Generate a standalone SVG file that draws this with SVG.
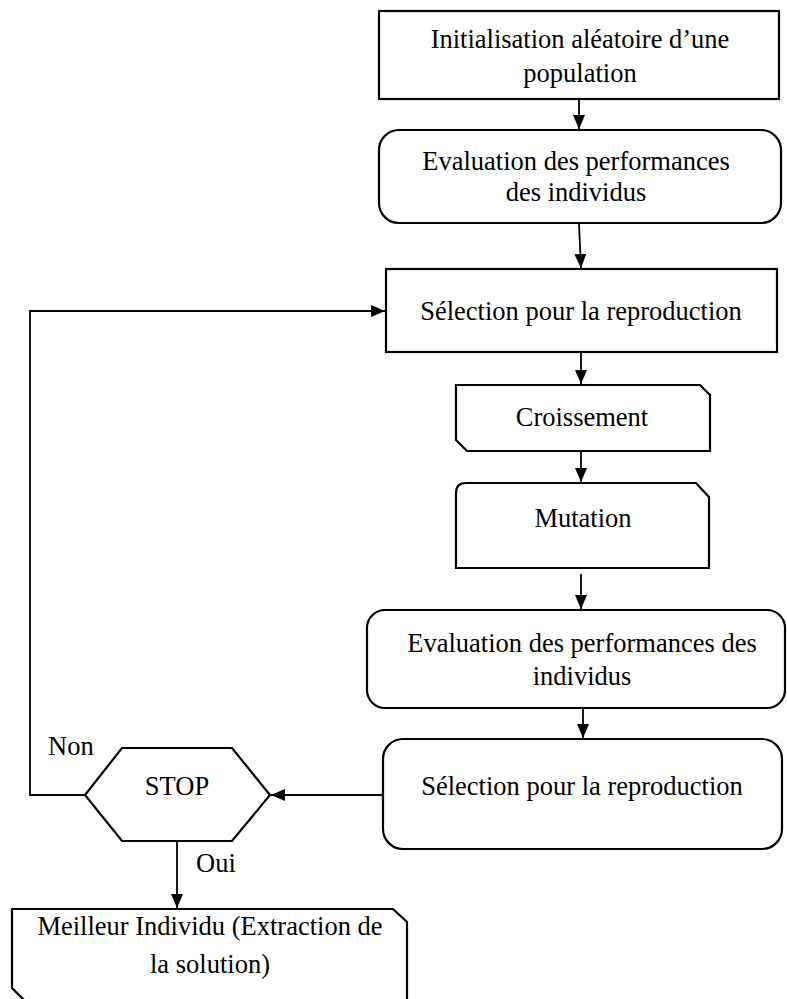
<svg xmlns="http://www.w3.org/2000/svg" width="787" height="999" viewBox="0 0 787 999">
<style>
.s{fill:#fff;stroke:#000;stroke-width:2.2}
.c{fill:none;stroke:#000;stroke-width:1.8}
text{font-family:"Liberation Serif","Times New Roman",serif;font-size:26.5px;fill:#000;text-anchor:middle}
.l{text-anchor:start}
</style>
<defs>
<marker id="a" viewBox="0 0 10 10" refX="10" refY="5" markerWidth="10" markerHeight="10" markerUnits="userSpaceOnUse" orient="auto">
<path d="M0,0 L10,5 L0,10 z" fill="#000"/>
</marker>
<marker id="b" viewBox="0 0 14 12" refX="14" refY="6" markerWidth="14" markerHeight="12" markerUnits="userSpaceOnUse" orient="auto">
<path d="M0,0 L14,6 L0,12 z" fill="#000"/>
</marker>
</defs>
<g id="connectors">
<line class="c" x1="579" y1="100" x2="579" y2="129" marker-end="url(#b)"/>
<line class="c" x1="579" y1="224" x2="581" y2="268" marker-end="url(#b)"/>
<line class="c" x1="581" y1="353" x2="581" y2="384" marker-end="url(#b)"/>
<line class="c" x1="581" y1="452" x2="581" y2="482" marker-end="url(#b)"/>
<line class="c" x1="581" y1="574" x2="581" y2="609" marker-end="url(#b)"/>
<line class="c" x1="583" y1="709" x2="583" y2="738" marker-end="url(#b)"/>
<line class="c" x1="383" y1="795" x2="271" y2="795" marker-end="url(#b)"/>
<polyline class="c" points="85,795 30,795 30,311 385,311" marker-end="url(#b)"/>
<line class="c" x1="177" y1="842" x2="177" y2="908" marker-end="url(#b)"/>
<text class="l" x="48" y="755">Non</text>
<text class="l" x="196" y="872">Oui</text>
</g>
<g id="n1">
<rect class="s" x="379" y="11" width="400" height="88"/>
<text x="580" y="48">Initialisation aléatoire d’une</text>
<text x="580" y="82">population</text>
</g>
<g id="n2">
<rect class="s" x="379" y="130" width="402" height="93" rx="20" ry="20"/>
<text x="576" y="170">Evaluation des performances</text>
<text x="576" y="201">des individus</text>
</g>
<g id="n3">
<rect class="s" x="386" y="269" width="391" height="83"/>
<text x="581" y="320">Sélection pour la reproduction</text>
</g>
<g id="n4">
<path class="s" d="M456,385 L700,385 L710,395 L710,451 L467,451 L456,440 Z"/>
<text x="582" y="426">Croissement</text>
</g>
<g id="n5">
<path class="s" d="M466,483 L696,483 L709,497 L709,568 L456,568 L456,493 Q456,483 466,483 Z"/>
<text x="583" y="527">Mutation</text>
</g>
<g id="n6">
<rect class="s" x="367" y="610" width="418" height="98" rx="18" ry="18"/>
<text x="582" y="652">Evaluation des performances des</text>
<text x="582" y="685">individus</text>
</g>
<g id="n7">
<rect class="s" x="383" y="739" width="399" height="110" rx="20" ry="20"/>
<text x="582" y="795">Sélection pour la reproduction</text>
</g>
<g id="n8">
<polygon class="s" points="85,795 122,748 232,748 270,795 232,841 122,841"/>
<text x="177" y="795">STOP</text>
</g>
<g id="n9">
<path class="s" d="M12,909 L393,909 L407,922 L407,1002 L26,1002 L12,988 Z"/>
<text x="210" y="935">Meilleur Individu (Extraction de</text>
<text x="210" y="973">la solution)</text>
</g>
</svg>
